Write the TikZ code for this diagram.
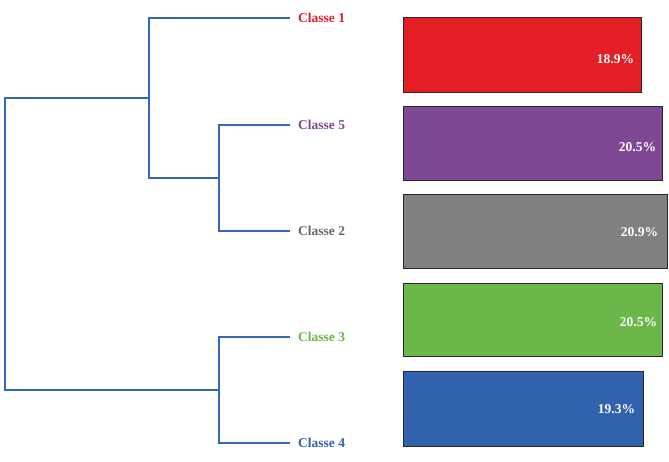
\documentclass[tikz,border=0pt]{standalone}
\usepackage{fontspec}
\setmainfont{Liberation Serif}
\definecolor{dendro}{HTML}{3468B6}
\definecolor{kred}{HTML}{E41E25}
\definecolor{kpurple}{HTML}{7F4894}
\definecolor{kgray}{HTML}{808080}
\definecolor{kgreen}{HTML}{6BB74A}
\definecolor{kblue}{HTML}{3162AD}
\begin{document}
\begin{tikzpicture}[x=1pt,y=-1pt,
  link/.style={draw=dendro,line width=1.4pt},
  leaf/.style={anchor=west,inner xsep=8pt,inner ysep=0pt,font=\bfseries\fontsize{13.5}{16}\selectfont},
  bar/.style={draw=black!85,line width=1.2pt,anchor=north west,inner sep=0pt,minimum height=75pt},
  pct/.style={anchor=east,text=white,inner sep=0pt,font=\bfseries\fontsize{13.5}{16}\selectfont}]
\useasboundingbox (0,0) rectangle (669,461);
% classes
\node[leaf,text=kred] (c1) at (290,18) {Classe 1};
\node[leaf,text=kpurple] (c5) at (290,125) {Classe 5};
\node[leaf,text=kgray!80!black] (c2) at (290,231) {Classe 2};
\node[leaf,text=kgreen] (c3) at (290,337) {Classe 3};
\node[leaf,text=kblue] (c4) at (290,443) {Classe 4};
% joins
\coordinate (k1) at (149,98);
\coordinate (k2) at (219,178);
\coordinate (k3) at (219,390);
\coordinate (root) at (5,244);
\draw[link] (c1.west) -| (k1) -| (root) |- (k3);
\draw[link] (c5.west) -| (k2) |- (c2.west);
\draw[link] (k2) -| (k1);
\draw[link] (c3.west) -| (k3) |- (c4.west);
% bars
\node[bar,fill=kred,minimum width=238pt] (b1) at (403,17) {};
\node[bar,fill=kpurple,minimum width=259pt,minimum height=74pt] (b5) at (403,106) {};
\node[bar,fill=kgray,minimum width=264pt,minimum height=74pt] (b2) at (403,194) {};
\node[bar,fill=kgreen,minimum width=259pt,minimum height=73pt] (b3) at (403,283) {};
\node[bar,fill=kblue,minimum width=240pt] (b4) at (403,371) {};
\node[pct] (p1) at ([xshift=-8pt,yshift=-4pt]b1.east) {18.9\%};
\node[pct] (p5) at ([xshift=-7pt,yshift=-4pt]b5.east) {20.5\%};
\node[pct] (p2) at ([xshift=-10pt,yshift=-1pt]b2.east) {20.9\%};
\node[pct] (p3) at ([xshift=-6pt,yshift=-2pt]b3.east) {20.5\%};
\node[pct] (p4) at ([xshift=-9pt,yshift=0pt]b4.east) {19.3\%};
\end{tikzpicture}
\end{document}
